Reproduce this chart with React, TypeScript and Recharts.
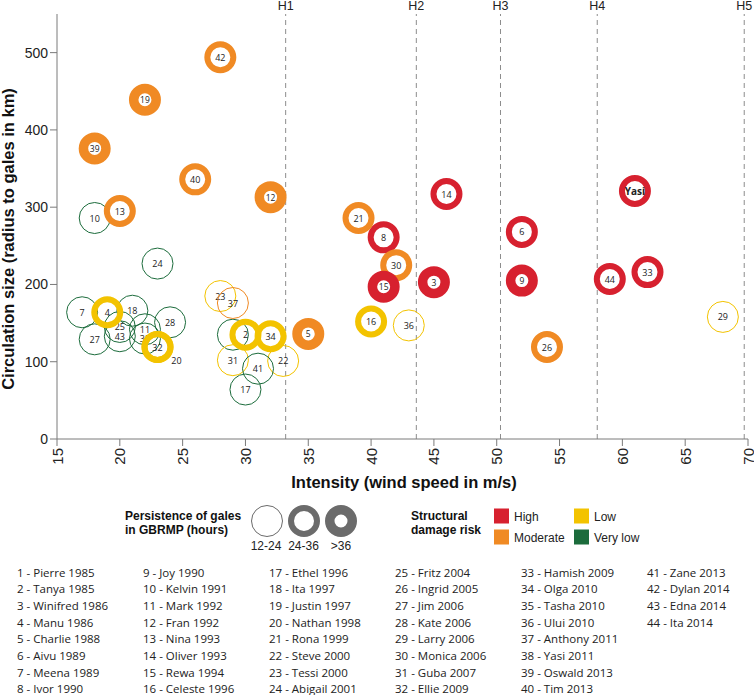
import React from 'react';
import { ScatterChart, Scatter, XAxis, YAxis, ReferenceLine } from 'recharts';

// ---- data ----
const ids = [1, 2, 3, 4, 5, 6, 7, 8, 9, 10, 11, 12, 13, 14, 15, 16, 17, 18, 19, 20, 21, 22, 23, 24, 25, 26, 27, 28, 29, 30, 31, 32, 33, 34, 35, 36, 37, 38, 39, 40, 41, 42, 43, 44];
const intensity = [29, 30, 45, 19, 35, 52, 17, 41, 52, 18, 22, 32, 20, 46, 41, 40, 30, 21, 22, 23, 39, 33, 28, 23, 20, 54, 18, 24, 68, 42, 29, 23, 62, 32, 22, 43, 29, 61, 18, 26, 31, 28, 20, 59];
const galeRadius = [135, 135, 203, 164, 136, 268, 164, 261, 205, 286, 142, 313, 295, 317, 197, 152, 64, 166, 439, 119, 286, 101, 185, 227, 145, 119, 129, 151, 158, 225, 102, 119, 216, 133, 130, 147, 176, 321, 376, 336, 91, 494, 133, 207];
// H = high, M = moderate, L = low, V = very low
const risk = ['V', 'L', 'H', 'L', 'M', 'H', 'V', 'H', 'H', 'V', 'V', 'M', 'M', 'H', 'H', 'L', 'V', 'V', 'M', 'L', 'M', 'L', 'L', 'V', 'V', 'M', 'V', 'V', 'L', 'M', 'L', 'L', 'H', 'L', 'V', 'L', 'M', 'H', 'M', 'M', 'V', 'M', 'V', 'H'];
// 1 = 12-24 h, 2 = 24-36 h, 3 = >36 h
const persistence = [1, 2, 3, 2, 3, 2, 1, 2, 3, 1, 1, 3, 2, 2, 3, 2, 1, 1, 3, 2, 2, 1, 1, 1, 1, 2, 1, 1, 1, 2, 1, 2, 2, 2, 1, 1, 1, 2, 3, 2, 1, 2, 1, 2];
const cycloneNames = [
  '1 - Pierre 1985', '2 - Tanya 1985', '3 - Winifred 1986', '4 - Manu 1986', '5 - Charlie 1988', '6 - Aivu 1989', '7 - Meena 1989', '8 - Ivor 1990',
  '9 - Joy 1990', '10 - Kelvin 1991', '11 - Mark 1992', '12 - Fran 1992', '13 - Nina 1993', '14 - Oliver 1993', '15 - Rewa 1994', '16 - Celeste 1996',
  '17 - Ethel 1996', '18 - Ita 1997', '19 - Justin 1997', '20 - Nathan 1998', '21 - Rona 1999', '22 - Steve 2000', '23 - Tessi 2000', '24 - Abigail 2001',
  '25 - Fritz 2004', '26 - Ingrid 2005', '27 - Jim 2006', '28 - Kate 2006', '29 - Larry 2006', '30 - Monica 2006', '31 - Guba 2007', '32 - Ellie 2009',
  '33 - Hamish 2009', '34 - Olga 2010', '35 - Tasha 2010', '36 - Ului 2010', '37 - Anthony 2011', '38 - Yasi 2011', '39 - Oswald 2013', '40 - Tim 2013',
  '41 - Zane 2013', '42 - Dylan 2014', '43 - Edna 2014', '44 - Ita 2014',
];
const xTicks = [15, 20, 25, 30, 35, 40, 45, 50, 55, 60, 65, 70];
const yTicks = [0, 100, 200, 300, 400, 500];
const hLabels = ['H1', 'H2', 'H3', 'H4', 'H5'];
const hValues = [33.2, 43.6, 50.3, 58.0, 69.7];
const persistenceLabels = ['12-24', '24-36', '>36'];
const riskLabels = ['High', 'Moderate', 'Low', 'Very low'];
const riskKeys = ['H', 'M', 'L', 'V'];

const riskColor: Record<string, string> = { H: '#D7212F', M: '#F08A24', L: '#F3C300', V: '#1C6C3C' };

const points = ids
  .map((id, i) => ({ id, x: intensity[i], y: galeRadius[i], risk: risk[i], p: persistence[i] }))
  .sort((a, b) => a.p - b.p);

const SANS = '"Liberation Sans", Arial, sans-serif';
const LIST = '"Open Sans", sans-serif';

function ring(cx: number, cy: number, p: number, color: string, key?: string) {
  if (p === 1) return <circle key={key} cx={cx} cy={cy} r={15.5} fill="none" stroke={color} strokeWidth={1} />;
  if (p === 2) return <circle key={key} cx={cx} cy={cy} r={13} fill="none" stroke={color} strokeWidth={6} />;
  return <circle key={key} cx={cx} cy={cy} r={11.25} fill="none" stroke={color} strokeWidth={9.5} />;
}

const Bubble = (props: any) => {
  const { cx, cy, payload } = props;
  if (cx == null || cy == null) return null;
  const color = riskColor[payload.risk];
  const isYasi = payload.id === 38;
  const lx = payload.id === 20 ? cx + 19 : cx;
  const ly = payload.id === 20 ? cy + 13 : cy;
  const fs = isYasi ? 10 : payload.p === 3 ? 8.5 : 9;
  return (
    <g>
      {ring(cx, cy, payload.p, color)}
      <text x={lx} y={ly} textAnchor="middle" dominantBaseline="central" fontSize={fs}
        fontWeight={isYasi ? 'bold' : 'normal'} fill="#222" fontFamily={LIST}>
        {isYasi ? 'Yasi' : payload.id}
      </text>
    </g>
  );
};

const XTick = (props: any) => {
  const { x, y, payload } = props;
  return (
    <text x={x} y={y} transform={`rotate(-90 ${x} ${y})`} textAnchor="end" dominantBaseline="central"
      fontSize={15} fill="#222" fontFamily={SANS}>
      {payload.value}
    </text>
  );
};

export default function App() {
  const colX = [17, 143, 269, 395, 521, 647];
  return (
    <div style={{ position: 'absolute', left: 0, top: 0, width: 754, height: 695, background: '#fff' }}>
      <ScatterChart width={754} height={470} margin={{ top: 14, right: 6, left: 0, bottom: 0 }}>
        <XAxis type="number" dataKey="x" domain={[15, 70]} ticks={xTicks} interval={0} height={31}
          tickSize={7} tickMargin={2} stroke="#7a7a7a" tick={<XTick />} allowDataOverflow />
        <YAxis type="number" dataKey="y" domain={[0, 550]} ticks={yTicks} interval={0} width={57}
          tickSize={7} tickMargin={2} stroke="#7a7a7a"
          tick={{ fontSize: 14, fill: '#222', fontFamily: SANS }} allowDataOverflow />
        {hValues.map((v, i) => (
          <ReferenceLine key={hLabels[i]} x={v} stroke="#8c8c8c" strokeDasharray="5 4"
            label={{ value: hLabels[i], position: 'top', offset: 4, fill: '#222', fontSize: 12.5, fontFamily: SANS }} />
        ))}
        <Scatter data={points} isAnimationActive={false} shape={(p: any) => <Bubble {...p} />} />
      </ScatterChart>

      <svg width={754} height={695} style={{ position: 'absolute', left: 0, top: 0, pointerEvents: 'none' }}>
        <text transform="rotate(-90)" x={-239} y={13.5} textAnchor="middle" fontSize={16.5} fontWeight="bold"
          fill="#111" fontFamily={SANS}>Circulation size (radius to gales in km)</text>
        <text x={404} y={488} textAnchor="middle" fontSize={16.5} fontWeight="bold" fill="#111"
          fontFamily={SANS}>Intensity (wind speed in m/s)</text>

        {/* persistence legend */}
        <text x={125} y={520} fontSize={12} fontWeight="bold" fill="#111" fontFamily={SANS}>Persistence of gales</text>
        <text x={125} y={533.5} fontSize={12} fontWeight="bold" fill="#111" fontFamily={SANS}>in GBRMP (hours)</text>
        {persistenceLabels.map((lab, i) => (
          <g key={lab}>
            {ring(267 + 37 * i, 521, i + 1, '#6b6b6b')}
            <text x={266 + 37.5 * i} y={550} textAnchor="middle" fontSize={12} fill="#222" fontFamily={SANS}>{lab}</text>
          </g>
        ))}

        {/* risk legend */}
        <text x={411} y={520} fontSize={12} fontWeight="bold" fill="#111" fontFamily={SANS}>Structural</text>
        <text x={411} y={533.5} fontSize={12} fontWeight="bold" fill="#111" fontFamily={SANS}>damage risk</text>
        {riskLabels.map((lab, i) => {
          const col = Math.floor(i / 2);
          const row = i % 2;
          const sx = 494 + 80 * col;
          const sy = 508.5 + 21 * row;
          return (
            <g key={lab}>
              <rect x={sx} y={sy} width={15} height={15} fill={riskColor[riskKeys[i]]} />
              <text x={sx + 20} y={sy + 12.5} fontSize={12} fill="#222" fontFamily={SANS}>{lab}</text>
            </g>
          );
        })}

        {/* cyclone list */}
        {cycloneNames.map((n, i) => (
          <text key={n} x={colX[Math.floor(i / 8)]} y={576.5 + 16.7 * (i % 8)} fontSize={11.5} fill="#222"
            fontFamily={LIST}>{n}</text>
        ))}
      </svg>
    </div>
  );
}
